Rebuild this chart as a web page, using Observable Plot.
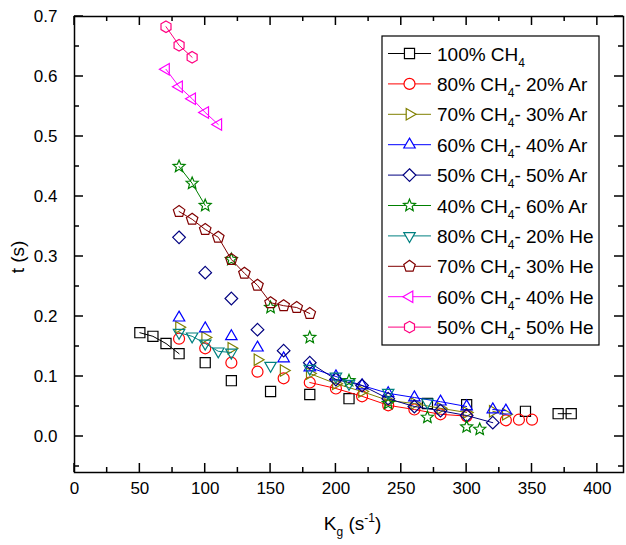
<!DOCTYPE html>
<html><head><meta charset="utf-8">
<script src="https://cdn.jsdelivr.net/npm/d3@7"></script>
<script src="https://cdn.jsdelivr.net/npm/@observablehq/plot@0.6"></script>
<style>body{margin:0;background:#fff;} #chart svg{display:block;}</style>
</head><body><div id="chart"></div>
<script>
// ---- data ----
const names = ["100% CH4","80% CH4- 20% Ar","70% CH4- 30% Ar","60% CH4- 40% Ar","50% CH4- 50% Ar","40% CH4- 60% Ar","80% CH4- 20% He","70% CH4- 30% He","60% CH4- 40% He","50% CH4- 50% He"];
const colors = ["#000000","#FF0000","#808000","#0000FF","#000080","#008000","#008080","#800000","#FF00FF","#FF0080"];
const shapes = ["square","circle","triangleRight","triangleUp","diamond","star","triangleDown","pentagon","triangleLeft","hexagon"];

// segment id: 0 = unconnected point, >0 = points joined by a line
const kg0 = [50,60,70,80,100,120,150,180,210,270,300,345,370,380];
const t0  = [0.173,0.167,0.155,0.138,0.123,0.093,0.075,0.070,0.063,0.055,0.053,0.042,0.038,0.038];
const sg0 = [1,1,1,1,0,0,0,0,0,0,0,0,2,2];

const kg1 = [80,100,120,140,160,180,200,220,240,260,280,300,330,340,350];
const t1  = [0.163,0.147,0.123,0.108,0.097,0.090,0.080,0.067,0.052,0.045,0.037,0.034,0.027,0.028,0.028];
const sg1 = [0,0,0,0,0,1,1,1,1,1,1,1,0,0,0];

const kg2 = [80,100,120,140,160,180,200,220,240,260,280,300,320,330];
const t2  = [0.182,0.165,0.147,0.128,0.110,0.105,0.088,0.075,0.060,0.055,0.047,0.040,0.042,0.037];
const sg2 = [0,0,0,0,0,1,1,1,1,1,1,1,2,2];

const kg3 = [80,100,120,140,160,180,200,220,240,260,280,300,320,330];
const t3  = [0.198,0.180,0.167,0.148,0.130,0.115,0.100,0.085,0.072,0.065,0.058,0.050,0.045,0.043];
const sg3 = [0,0,0,0,0,1,1,1,1,1,1,1,2,2];

const kg4 = [80,100,120,140,160,180,200,220,240,260,280,300,320];
const t4  = [0.332,0.273,0.230,0.178,0.143,0.123,0.095,0.085,0.063,0.050,0.043,0.035,0.023];
const sg4 = [0,0,0,0,0,1,1,1,1,1,1,1,1];

const kg5 = [80,90,100,120,150,180,210,240,270,300,310];
const t5  = [0.450,0.422,0.385,0.295,0.215,0.165,0.093,0.055,0.032,0.016,0.012];
const sg5 = [1,1,1,0,0,0,0,0,0,0,0];

const kg6 = [80,90,100,110,120,150,180,200,210,240,270];
const t6  = [0.173,0.167,0.155,0.142,0.140,0.118,0.113,0.100,0.088,0.073,0.057];
const sg6 = [1,1,1,1,1,0,0,0,0,0,0];

const kg7 = [80,90,100,110,120,130,140,150,160,170,180];
const t7  = [0.375,0.362,0.345,0.332,0.295,0.272,0.252,0.223,0.218,0.215,0.205];
const sg7 = [1,1,1,1,1,1,1,1,1,1,1];

const kg8 = [70,80,90,100,110];
const t8  = [0.612,0.583,0.563,0.540,0.520];
const sg8 = [1,1,1,1,1];

const kg9 = [70,80,90];
const t9  = [0.683,0.652,0.632];
const sg9 = [1,1,1];

const xTicks = [0,50,100,150,200,250,300,350,400];
const yTicks = [0,0.1,0.2,0.3,0.4,0.5,0.6,0.7];
const yTickLabels = ["0.0","0.1","0.2","0.3","0.4","0.5","0.6","0.7"];
const xTitle = ["K","g"," (s","-1",")"];
const yTitle = "t (s)";

// ---- build tables ----
const KG = [kg0,kg1,kg2,kg3,kg4,kg5,kg6,kg7,kg8,kg9];
const TT = [t0,t1,t2,t3,t4,t5,t6,t7,t8,t9];
const SG = [sg0,sg1,sg2,sg3,sg4,sg5,sg6,sg7,sg8,sg9];
const tables = names.map((n, i) => KG[i].map((k, j) => ({series: n, kg: k, t: TT[i][j], seg: SG[i][j]})));

// ---- symbols ----
const sym = fn => ({draw(ctx, size) { fn(ctx, Math.sqrt(size / Math.PI)); }});
const ngon = (n, rot, k) => sym((ctx, r) => {
  const R = r * k;
  for (let i = 0; i < n; i++) {
    const a = rot + 2 * Math.PI * i / n;
    const px = R * Math.sin(a), py = -R * Math.cos(a);
    i ? ctx.lineTo(px, py) : ctx.moveTo(px, py);
  }
  ctx.closePath();
});
const symbols = {
  square: sym((ctx, r) => { const h = r * 0.92; ctx.moveTo(-h, -h); ctx.lineTo(h, -h); ctx.lineTo(h, h); ctx.lineTo(-h, h); ctx.closePath(); }),
  circle: sym((ctx, r) => { ctx.moveTo(r, 0); ctx.arc(0, 0, r, 0, 2 * Math.PI); }),
  triangleUp: ngon(3, 0, 1.2),
  triangleDown: ngon(3, Math.PI, 1.2),
  triangleRight: ngon(3, Math.PI / 2, 1.2),
  triangleLeft: ngon(3, -Math.PI / 2, 1.2),
  diamond: ngon(4, 0, 1.15),
  pentagon: ngon(5, 0, 1.1),
  hexagon: ngon(6, 0, 1.05),
  star: sym((ctx, r) => {
    const R = r * 1.15, ri = R * 0.45;
    for (let i = 0; i < 10; i++) {
      const a = Math.PI * i / 5, rr = i % 2 ? ri : R;
      const px = rr * Math.sin(a), py = -rr * Math.cos(a);
      i ? ctx.lineTo(px, py) : ctx.moveTo(px, py);
    }
    ctx.closePath();
  })
};
const R_DOT = 5.5;

// ---- decorations: ticks, legend, titles ----
function decor(index, scales, values, dims) {
  const {x, y} = scales;
  const g = d3.create("svg:g");
  const L = dims.marginLeft, Rr = dims.width - dims.marginRight, T = dims.marginTop, B = dims.height - dims.marginBottom;
  let d = "";
  for (const v of d3.range(0, 421, 25)) {
    const px = x(v), len = v % 50 === 0 ? 9 : 5;
    d += `M${px},${B}v${-len}M${px},${T}v${len}`;
  }
  for (const v of d3.range(-0.05, 0.701, 0.05)) {
    const py = y(v), len = Math.abs(Math.round(v * 20)) % 2 === 0 ? 9 : 5;
    d += `M${L},${py}h${len}M${Rr},${py}h${-len}`;
  }
  g.append("path").attr("d", d).attr("stroke", "#000").attr("stroke-width", 1.5).attr("fill", "none");

  // legend
  const lx = 382, ly = 36, lw = 217, lh = 309, rowH = 30.4;
  g.append("rect").attr("x", lx).attr("y", ly).attr("width", lw).attr("height", lh)
    .attr("fill", "#fff").attr("stroke", "#000").attr("stroke-width", 1.2);
  names.forEach((n, i) => {
    const cy = ly + 17.5 + i * rowH;
    g.append("line").attr("x1", 388).attr("x2", 431).attr("y1", cy).attr("y2", cy).attr("stroke", colors[i]).attr("stroke-width", 1);
    const p = d3.path();
    symbols[shapes[i]].draw(p, R_DOT * R_DOT * Math.PI);
    g.append("path").attr("d", p.toString()).attr("transform", `translate(409.5,${cy})`)
      .attr("fill", "#fff").attr("stroke", colors[i]).attr("stroke-width", 1.2);
    const parts = n.split("CH4");
    const t = g.append("text").attr("x", 437).attr("y", cy + 7).attr("font-size", 19)
      .attr("text-anchor", "start").attr("fill", "#000");
    t.append("tspan").text(parts[0] + "CH");
    t.append("tspan").attr("font-size", 12).attr("dy", 6).text("4");
    t.append("tspan").attr("dy", -6).text(parts[1]);
  });

  // axis titles
  const xt = g.append("text").attr("x", (L + Rr) / 2 + 4).attr("y", 530).attr("text-anchor", "middle").attr("font-size", 19);
  xt.append("tspan").text(xTitle[0]);
  xt.append("tspan").attr("font-size", 12).attr("dy", 6).text(xTitle[1]);
  xt.append("tspan").attr("dy", -6).text(xTitle[2]);
  xt.append("tspan").attr("font-size", 12).attr("dy", -8).text(xTitle[3]);
  xt.append("tspan").attr("dy", 8).text(xTitle[4]);
  g.append("text").attr("transform", `translate(24,${(T + B) / 2 + 13}) rotate(-90)`).attr("text-anchor", "middle")
    .attr("font-size", 19).text(yTitle);
  return g.node();
}

const marks = [];
tables.forEach((rows, i) => {
  marks.push(Plot.line(rows.filter(r => r.seg > 0), {x: "kg", y: "t", z: "seg", stroke: colors[i], strokeWidth: 1}));
  marks.push(Plot.dot(rows, {x: "kg", y: "t", r: R_DOT, symbol: symbols[shapes[i]], stroke: colors[i], fill: "none", strokeWidth: 1.2}));
});

const chart = Plot.plot({
  width: 626, height: 545,
  marginLeft: 74, marginRight: 3, marginTop: 16, marginBottom: 73,
  style: {fontFamily: "'Liberation Sans', Arial, sans-serif", fontSize: "17px", color: "#000", background: "#fff"},
  x: {domain: [0, 420]},
  y: {domain: [-0.06, 0.7]},
  marks: [
    ...marks,
    Plot.frame({stroke: "#000", strokeWidth: 1.5}),
    Plot.axisX(xTicks, {anchor: "bottom", tickSize: 0, tickPadding: 9, label: null}),
    Plot.axisY(yTicks, {anchor: "left", tickSize: 0, tickPadding: 17, label: null, tickFormat: (d, i) => yTickLabels[i]}),
    decor
  ]
});
document.getElementById("chart").append(chart);
</script></body></html>
